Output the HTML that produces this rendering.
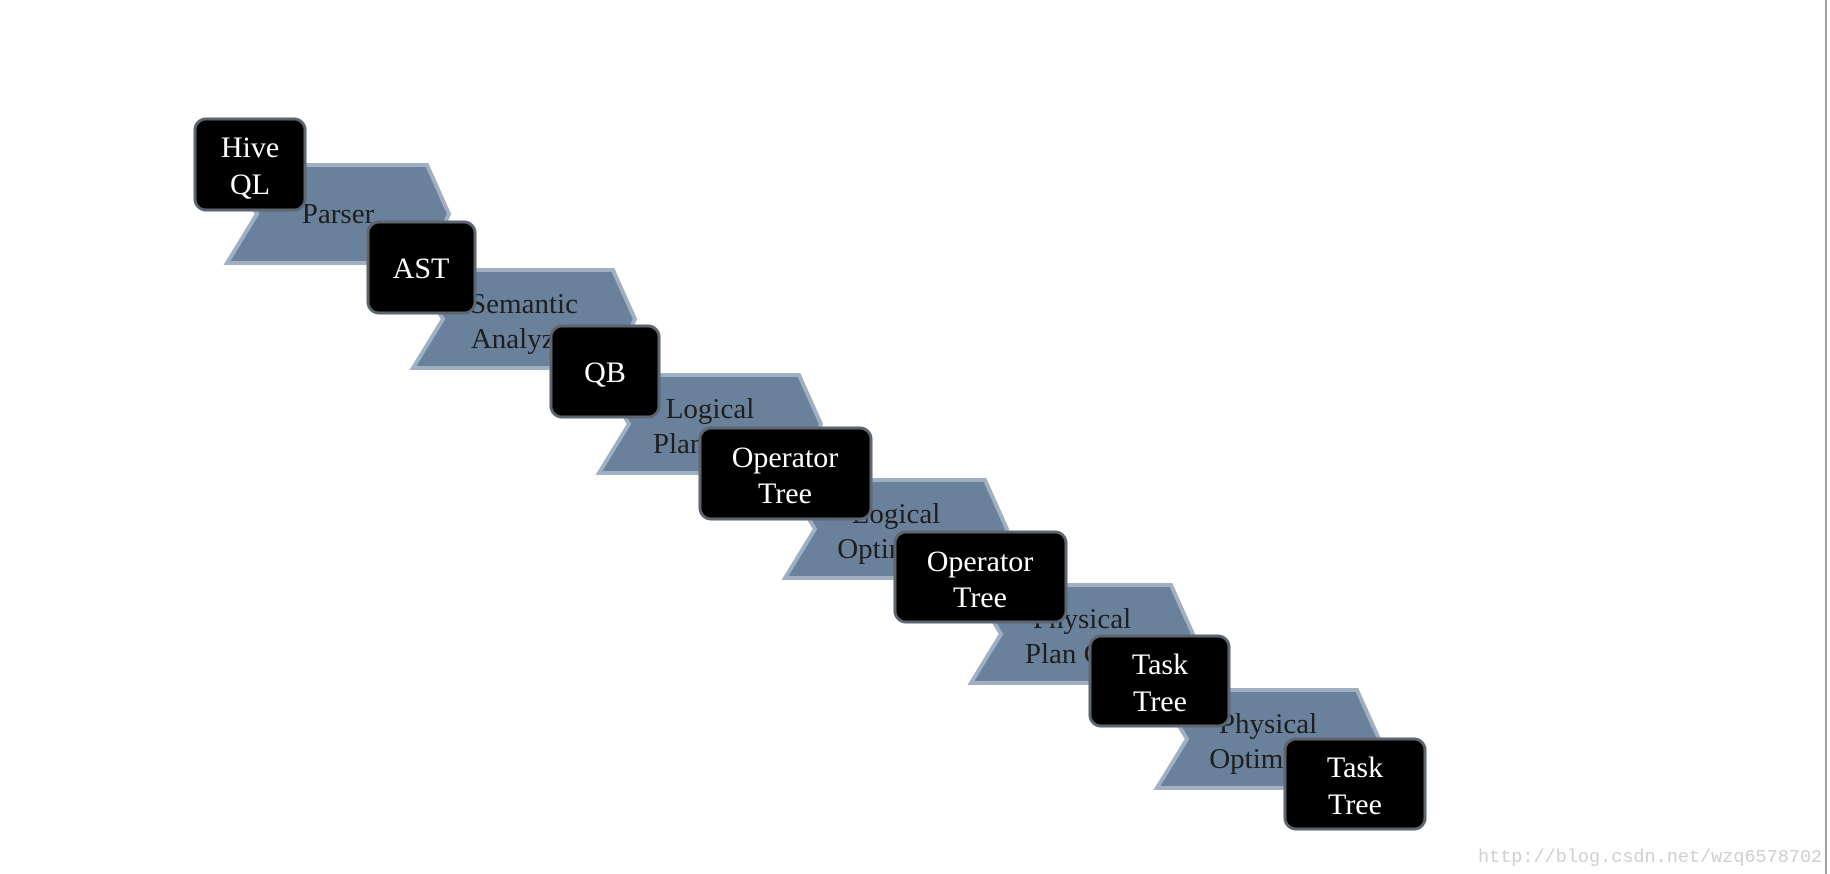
<!DOCTYPE html>
<html><head><meta charset="utf-8"><style>
html,body{margin:0;padding:0;background:#fff;}
svg{display:block}
</style></head><body>
<svg width="1830" height="874" viewBox="0 0 1830 874" xmlns="http://www.w3.org/2000/svg">
<rect x="0" y="0" width="1830" height="874" fill="#fff"/>
<line x1="1826" y1="0" x2="1826" y2="874" stroke="#a0a0a0" stroke-width="2"/>
<g fill="#6a819c" stroke="#a0b0c2" stroke-width="4" stroke-linejoin="miter">
<polygon points="227,165 427,165 449,214 427,263 227,263 257,214"/>
<polygon points="413,270 613,270 635,319 613,368 413,368 443,319"/>
<polygon points="599,375 799,375 821,424 799,473 599,473 629,424"/>
<polygon points="785,480 985,480 1007,529 985,578 785,578 815,529"/>
<polygon points="971,585 1171,585 1193,634 1171,683 971,683 1001,634"/>
<polygon points="1157,690 1357,690 1379,739 1357,788 1157,788 1187,739"/>
</g>
<g font-family="Liberation Serif, serif" font-size="29" fill="#1e1e1e" text-anchor="middle">
<text x="338" y="223">Parser</text>
<text x="524" y="313">Semantic</text><text x="524" y="348">Analyzer</text>
<text x="710" y="418">Logical</text><text x="710" y="453">Plan Gen.</text>
<text x="896" y="523">Logical</text><text x="896" y="558">Optimizer</text>
<text x="1082" y="628">Physical</text><text x="1082" y="663">Plan Gen.</text>
<text x="1268" y="733">Physical</text><text x="1268" y="768">Optimizer</text>
</g>
<g fill="#000" stroke="#5d6570" stroke-width="3">
<rect x="195" y="119" width="110" height="91" rx="11"/>
<rect x="368" y="222" width="107" height="91" rx="11"/>
<rect x="551" y="326" width="108" height="91" rx="11"/>
<rect x="700" y="428" width="171" height="91" rx="11"/>
<rect x="895" y="532" width="171" height="90" rx="11"/>
<rect x="1090" y="636" width="139" height="90" rx="11"/>
<rect x="1285" y="739" width="140" height="90" rx="11"/>
</g>
<g font-family="Liberation Serif, serif" font-size="30" fill="#fff" text-anchor="middle">
<text x="250" y="157">Hive</text><text x="250" y="194">QL</text>
<text x="421" y="278">AST</text>
<text x="605" y="382">QB</text>
<text x="785" y="467">Operator</text><text x="785" y="503">Tree</text>
<text x="980" y="571">Operator</text><text x="980" y="607">Tree</text>
<text x="1160" y="674">Task</text><text x="1160" y="711">Tree</text>
<text x="1355" y="777">Task</text><text x="1355" y="814">Tree</text>
</g>
<text x="1478" y="862" font-family="Liberation Mono, monospace" font-size="18.5" fill="#cfcfcf">http://blog.csdn.net/wzq6578702</text>
</svg>
</body></html>
